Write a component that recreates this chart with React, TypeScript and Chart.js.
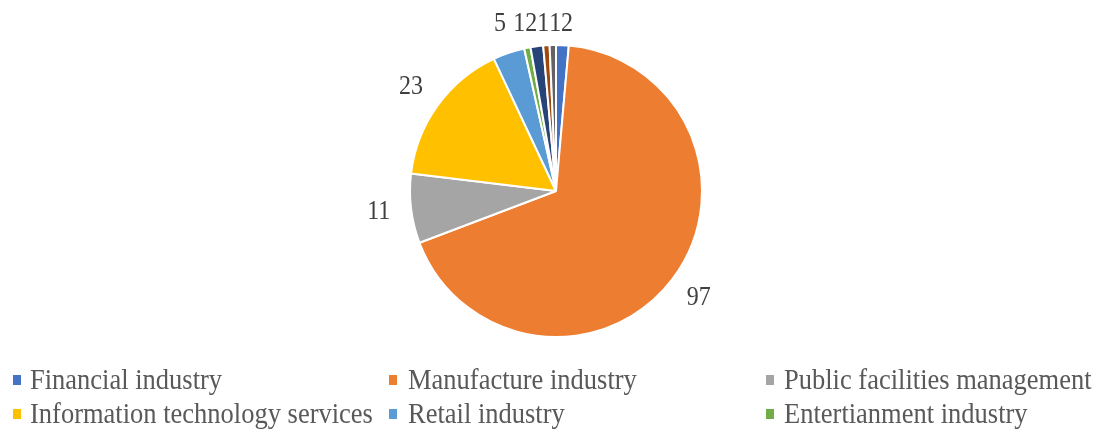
import React, { useEffect, useRef } from 'react';
import { Chart, registerables } from 'chart.js';

Chart.register(...registerables);

const categories = [
  'Financial industry',
  'Manufacture industry',
  'Public facilities management',
  'Information technology services',
  'Retail industry',
  'Entertianment industry',
  'Transportation industry',
  'Real estate industry',
  'Other industries',
];
const values = [2, 97, 11, 23, 5, 1, 2, 1, 1];
const sliceColors = [
  '#4472C4',
  '#ED7D31',
  '#A5A5A5',
  '#FFC000',
  '#5B9BD5',
  '#70AD47',
  '#264478',
  '#9E480E',
  '#636363',
];

const LABEL_FONT = '24px "Liberation Serif", "Times New Roman", serif';
const LEGEND_FONT = '26.5px "Liberation Serif", "Times New Roman", serif';

const pieLabelsPlugin = {
  id: 'pieLabels',
  afterDatasetsDraw(chart: any) {
    const ctx = chart.ctx as CanvasRenderingContext2D;
    const meta = chart.getDatasetMeta(0);
    const data = chart.data.datasets[0].data as number[];
    const halfH = 11;
    const minCenterY = 24;
    ctx.save();
    ctx.font = LABEL_FONT;
    const items = meta.data.map((arc: any, i: number) => {
      const p = arc.getProps(['x', 'y', 'startAngle', 'endAngle', 'outerRadius'], true);
      const mid = (p.startAngle + p.endAngle) / 2;
      const d = p.outerRadius + 21;
      const text = String(data[i]);
      const w = ctx.measureText(text).width;
      const cx = Math.cos(mid);
      const cy = Math.sin(mid);
      return {
        text,
        x: p.x + cx * d + cx * (w / 2),
        y: Math.max(minCenterY, p.y + cy * d + cy * halfH),
        w,
      };
    });
    // resolve horizontal overlaps between neighbouring labels
    for (let iter = 0; iter < 100; iter++) {
      let moved = false;
      for (let i = 0; i < items.length; i++) {
        for (let j = i + 1; j < items.length; j++) {
          const a = items[i];
          const b = items[j];
          if (Math.abs(a.y - b.y) > 18) continue;
          const dx = b.x - a.x;
          const need = (a.w + b.w) / 2;
          if (Math.abs(dx) < need - 0.01) {
            const push = (need - Math.abs(dx)) / 2;
            const s = dx >= 0 ? 1 : -1;
            a.x -= s * push;
            b.x += s * push;
            moved = true;
          }
        }
      }
      if (!moved) break;
    }
    ctx.fillStyle = '#404040';
    ctx.textAlign = 'center';
    ctx.textBaseline = 'middle';
    items.forEach((it: any) => {
      ctx.save();
      ctx.translate(it.x, it.y);
      ctx.scale(1, 1.1);
      ctx.fillText(it.text, 0, 0);
      ctx.restore();
    });
    ctx.restore();
  },
};

const gridLegendPlugin = {
  id: 'gridLegend',
  afterDraw(chart: any) {
    const ctx = chart.ctx as CanvasRenderingContext2D;
    const labels = chart.data.labels as string[];
    const colors = chart.data.datasets[0].backgroundColor as string[];
    const markerX = [13, 389, 766];
    const textX = [30, 408, 784];
    const firstBaseline = 389;
    const rowGap = 34;
    ctx.save();
    ctx.font = LEGEND_FONT;
    ctx.textAlign = 'left';
    ctx.textBaseline = 'alphabetic';
    labels.forEach((lab, i) => {
      const col = i % 3;
      const row = Math.floor(i / 3);
      const base = firstBaseline + row * rowGap;
      ctx.fillStyle = colors[i];
      ctx.fillRect(markerX[col], base - 14, 8, 10);
      ctx.fillStyle = '#595959';
      ctx.save();
      ctx.translate(textX[col], base);
      ctx.scale(1, 1.1);
      ctx.fillText(lab, 0, 0);
      ctx.restore();
    });
    ctx.restore();
  },
};

export default function App() {
  const canvasRef = useRef<HTMLCanvasElement | null>(null);

  useEffect(() => {
    if (!canvasRef.current) return;
    const chart = new Chart(canvasRef.current, {
      type: 'pie',
      data: {
        labels: categories,
        datasets: [
          {
            data: values,
            backgroundColor: sliceColors,
            borderColor: '#FFFFFF',
            borderWidth: 2,
          },
        ],
      },
      options: {
        responsive: false,
        animation: false,
        layout: { padding: { left: 409, right: 394, top: 44, bottom: 91 } },
        plugins: {
          legend: { display: false },
          tooltip: { enabled: false },
        },
      },
      plugins: [pieLabelsPlugin, gridLegendPlugin],
    });
    return () => chart.destroy();
  }, []);

  return (
    <div style={{ position: 'fixed', left: 0, top: 0, width: 1097, height: 429, background: '#fff' }}>
      <canvas ref={canvasRef} width={1097} height={429} style={{ width: 1097, height: 429, display: 'block' }} />
    </div>
  );
}
